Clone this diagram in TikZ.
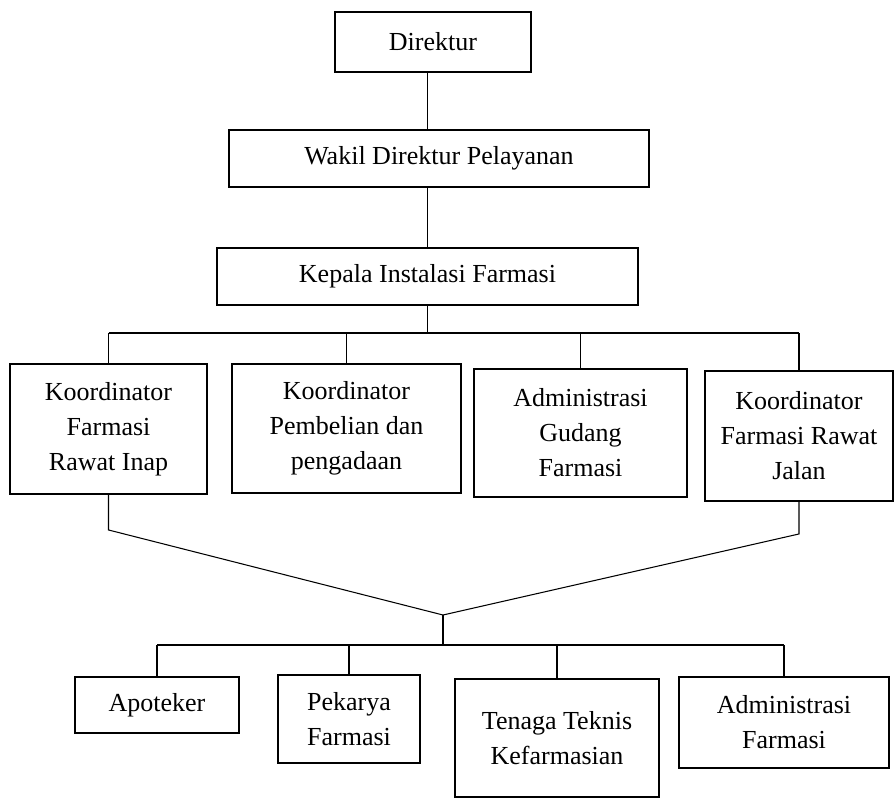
\documentclass[tikz,border=0pt]{standalone}
\usepackage{fontspec}
\setmainfont{Liberation Serif}
\begin{document}
\begin{tikzpicture}[font=\fontsize{14.8}{19.9}\selectfont,
	box/.style={draw, line width=1.1pt, align=center, inner sep=2pt},
	link/.style={line width=0.6pt}]
	\path[fill=white] (0,0) rectangle (17.92,-15.96);
	\useasboundingbox (0,0) rectangle (17.92,-15.96);
	% top levels
	\node[box, minimum width=3.92cm, minimum height=1.20cm] (dir) at (8.66,-0.84) {Direktur};
	\node[box, minimum width=8.40cm, minimum height=1.14cm] (wakil) at (8.78,-3.17) {Wakil Direktur Pelayanan};
	\node[box, minimum width=8.42cm, minimum height=1.14cm] (kepala) at (8.55,-5.53) {Kepala Instalasi Farmasi};
	% koordinator
	\node[box, minimum width=3.94cm, minimum height=2.60cm] (koor1) at (2.17,-8.58) {Koordinator\\Farmasi\\Rawat Inap};
	\node[box, minimum width=4.58cm, minimum height=2.58cm] (koor2) at (6.93,-8.57) {Koordinator\\Pembelian dan\\pengadaan};
	\node[box, minimum width=4.26cm, minimum height=2.56cm] (koor3) at (11.61,-8.66) {Administrasi\\Gudang\\Farmasi};
	\node[box, minimum width=3.76cm, minimum height=2.60cm] (koor4) at (15.98,-8.72) {Koordinator\\Farmasi Rawat\\Jalan};
	% staf
	\node[box, minimum width=3.28cm, minimum height=1.12cm] (apt) at (3.14,-14.10) {Apoteker};
	\node[box, minimum width=2.84cm, minimum height=1.76cm] (pek) at (6.98,-14.38) {Pekarya\\Farmasi};
	\node[box, minimum width=4.08cm, minimum height=2.36cm] (ttk) at (11.14,-14.76) {Tenaga Teknis\\Kefarmasian};
	\node[box, minimum width=4.20cm, minimum height=1.82cm] (adm) at (15.68,-14.45) {Administrasi\\Farmasi};
	\coordinate (bus) at (8.56,-6.66);
	\coordinate (meet) at (8.86,-12.30);
	\coordinate (bus2) at (8.86,-12.90);
	% connectors
	\draw[link] (dir.south -| kepala.north) -- (wakil.north -| kepala.north);
	\draw[link] (kepala.north) -- (kepala.north |- wakil.south);
	\draw[link] (kepala.south) -- (kepala.south |- bus);
	\draw[line width=1.1pt] (koor1.north |- bus) -- (koor4.north |- bus);
	\foreach \k in {koor1,koor2,koor3,koor4}
		\draw[link] (\k.north |- bus) -- (\k.north);
	\draw[link] (koor1.south) -- ++(0,-0.70) -- (meet);
	\draw[link] (koor4.south) -- ++(0,-0.64) -- (meet);
	\draw[link] (meet) -- (bus2);
	\draw[link] (apt.north |- bus2) -- (adm.north |- bus2);
	\foreach \s in {apt,pek,ttk,adm}
		\draw[link] (\s.north |- bus2) -- (\s.north);
\end{tikzpicture}
\end{document}
